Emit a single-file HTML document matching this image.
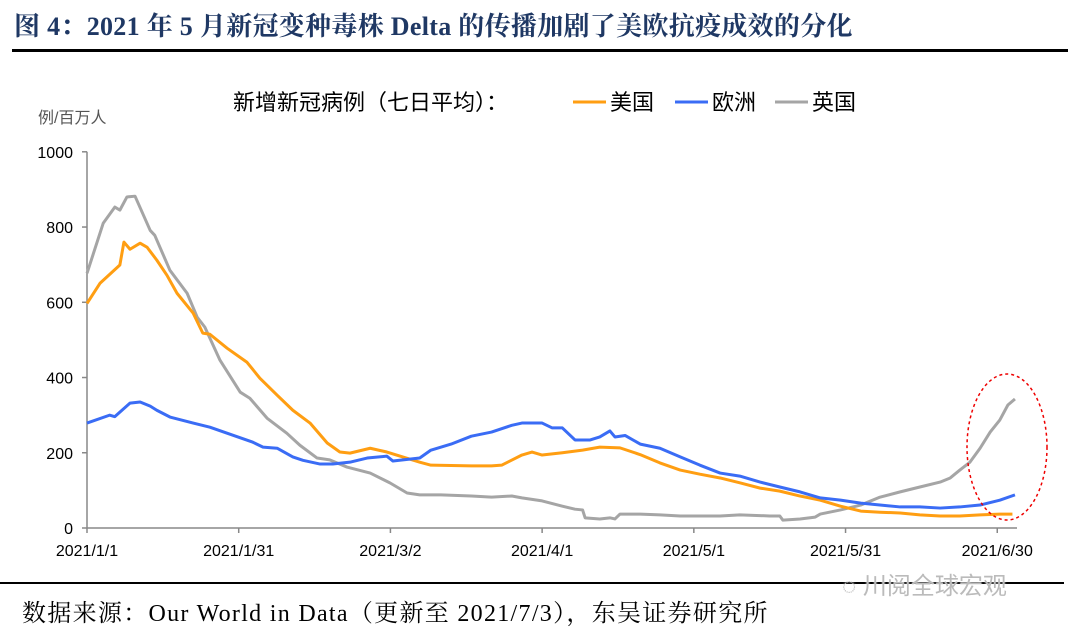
<!DOCTYPE html>
<html><head><meta charset="utf-8"><style>
body{margin:0;background:#fff;width:1080px;height:629px;overflow:hidden;position:relative;font-family:"Liberation Sans","Noto Sans CJK SC",sans-serif}
.t{position:absolute;white-space:nowrap}
</style></head><body>
<div class="t" style="left:14px;top:6px;font:bold 26px 'Liberation Serif','Noto Serif CJK SC',serif;color:#1f3864;letter-spacing:0.3px">图 4：2021 年 5 月新冠变种毒株 Delta 的传播加剧了美欧抗疫成效的分化</div>
<div style="position:absolute;left:12px;top:49px;width:1056px;height:3px;background:#000"></div>
<svg id="chart" width="1080" height="629" style="position:absolute;left:0;top:0"></svg>
<div style="position:absolute;left:0;top:582px;width:1064px;height:2px;background:#000"></div>
<div class="t" style="left:842px;top:566px;font-size:24px;color:#bbb;text-shadow:0 0 2px #fff">◌ 川阅全球宏观</div>
<div class="t" style="left:22px;top:593px;font:24px 'Liberation Serif','Noto Serif CJK SC',serif;color:#000;letter-spacing:1.3px">数据来源：Our World in Data（更新至 2021/7/3），东吴证券研究所</div>
<script>
const usDays=[0,2.6,6.5,7.3,8.5,10.5,11.9,13.8,15.8,17.8,21,22.9,24.3,27.7,31.6,34.2,37.6,40.7,44.1,47.5,50,52,56,59.3,65.8,68,76,80,82,86,88,90,94,98,101.4,105.4,109.4,113.3,117.3,121.2,125.2,129.1,133.1,137,141,145,149,153,156.8,160.8,164.7,168.7,172.6,176.6,180.5,183];
const usVals=[597,651,699,760,741,757,746,712,672,624,571,518,515,478,441,398,353,313,279,226,202,199,212,202,175,167,165,165,167,194,202,194,200,207,215,213,195,173,154,143,133,120,106,98,85,74,58,45,42,40,35,32,32,35,37,37];
const euDays=[0,4.5,5.5,8.5,10.5,12.5,13.8,16.4,21,24.3,27.7,32.8,34.8,37.6,40.7,42.7,46.1,48.6,52,55.4,59.3,60.5,65.8,68,72,76,80,84,86,90,92,94,96.5,99.5,101.4,103.4,104.4,106.4,109.4,113.3,117.3,121.2,125.2,129.1,133.1,137,141,145,149,153,156.8,160.8,164.7,168.7,172.6,176.6,180.5,183.5];
const euVals=[279,300,296,332,335,324,313,295,279,268,252,228,215,212,189,180,170,170,175,186,191,178,186,207,223,244,255,273,279,279,266,266,234,234,242,258,242,246,223,212,189,167,146,138,122,109,96,80,74,66,61,56,56,53,56,61,74,88];
const ukDays=[0,3.2,5.5,6.5,7.9,9.5,12.5,13.4,16.4,19.8,21.8,23.3,26.3,30.3,32.2,35.6,39.5,42.1,45.5,48,51.4,56,59.9,63.3,65.8,70,76,80,84,86,90,94,96.5,98,98.5,101.4,103.4,104.4,105.4,109.4,113.3,117.3,121.2,125.2,129.1,135,137,137.6,141,144,145,149,153,156.8,160.8,164.7,168.7,170.7,172.6,174.6,176.6,178.6,180.5,182.1,183.5];
const ukVals=[677,810,853,845,880,882,791,778,685,624,560,534,446,361,345,292,252,220,186,181,162,146,120,93,88,88,85,82,85,80,72,58,50,48,27,24,27,24,37,37,35,32,32,32,35,32,32,21,24,29,37,48,61,82,96,109,122,133,154,175,212,255,287,327,343];
const yTicks=[0,200,400,600,800,1000];
const xTickDays=[0,30,60,90,120,150,180];
const xTickLabels=["2021/1/1","2021/1/31","2021/3/2","2021/4/1","2021/5/1","2021/5/31","2021/6/30"];
const X0=87,DX=5.057,Y0=528,YS=0.3762;
const xs=d=>X0+d*DX, ys=v=>Y0-v*YS;
const svg=document.getElementById('chart');const NS='http://www.w3.org/2000/svg';
function mk(tag,attrs,parent){const e=document.createElementNS(NS,tag);for(const k in attrs)e.setAttribute(k,attrs[k]);(parent||svg).appendChild(e);return e;}
let ax=mk('path',{d:`M${X0} ${ys(1000)}V${Y0}H1017`,stroke:'#888',fill:'none','stroke-width':1.5});


yTicks.forEach(v=>{
 const y=ys(v);
 let l=mk('line',{x1:X0-5,x2:X0,y1:y,y2:y,stroke:'#888','stroke-width':1.5});
 
 
 let t=mk('text',{x:X0-14,y:y+6,'text-anchor':'end','font-size':16,fill:'#000'});t.textContent=v;
 
 
});
xTickDays.forEach((d,i)=>{
 const x=xs(d);
 let l=mk('line',{x1:x,x2:x,y1:Y0,y2:Y0+5,stroke:'#888','stroke-width':1.5});
 
 
 let t=mk('text',{x:x,y:556,'text-anchor':'middle','font-size':16,fill:'#000'});t.textContent=xTickLabels[i];
 
 
});
function line(days,vals,color,name){
 const p=mk('polyline',{points:days.map((d,i)=>xs(d)+','+ys(vals[i])).join(' '),fill:'none',stroke:color,'stroke-width':3,'stroke-linejoin':'round'});
 
 
}
line(ukDays,ukVals,'#a5a5a5','uk-line');
line(usDays,usVals,'#ff9e12','us-line');
line(euDays,euVals,'#3a6cf5','europe-line');
let el=mk('ellipse',{cx:1007,cy:447,rx:40,ry:73,fill:'none',stroke:'#e00','stroke-width':1.5,'stroke-dasharray':'3,3'});


let yt=mk('text',{x:38,y:123,'font-size':16,fill:'#555'});yt.textContent='例/百万人';


let ct=mk('text',{x:233,y:110,'font-size':22,fill:'#000'});ct.textContent='新增新冠病例（七日平均）：';


[['美国','#ff9e12',573],['欧洲','#3a6cf5',675],['英国','#a5a5a5',775]].forEach(e=>{
 let l=mk('line',{x1:e[2],x2:e[2]+33,y1:102,y2:102,stroke:e[1],'stroke-width':3});
 
 
 let t=mk('text',{x:e[2]+37,y:110,'font-size':22,fill:'#000'});t.textContent=e[0];
 
 
});
</script>
</body></html>
